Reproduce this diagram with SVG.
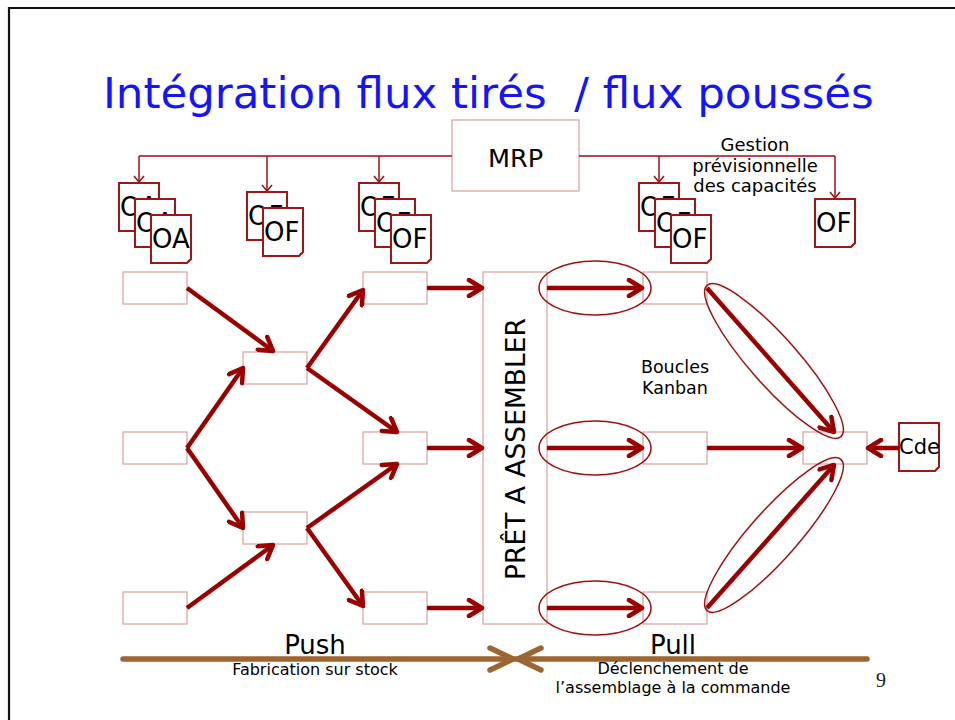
<svg xmlns="http://www.w3.org/2000/svg" xmlns:xlink="http://www.w3.org/1999/xlink" width="955" height="720" viewBox="0 0 955 720">
<style>
.t{font-family:"DejaVu Sans",Verdana,sans-serif;fill:#000}
.box{fill:#fff;stroke:#d8a0a0;stroke-width:1.2}
.doc{fill:#fff;stroke:#a01515;stroke-width:2}
.dt{font-family:"DejaVu Sans",Verdana,sans-serif;font-size:26px;fill:#000}
.thick{fill:none;stroke:#990000;stroke-width:4.5;marker-end:url(#ah)}
.thin{fill:none;stroke:#a01010;stroke-width:1.5}
.thinA{fill:none;stroke:#a01010;stroke-width:1.5;marker-end:url(#ahs)}
.ell{fill:none;stroke:#a01010;stroke-width:1.5}
.brown{fill:none;stroke:#9c6633;stroke-width:5.5;stroke-linecap:round;stroke-linejoin:round}
</style>
<defs>
<marker id="ah" markerUnits="userSpaceOnUse" viewBox="-16 -10 20 20" refX="0" refY="0" markerWidth="20" markerHeight="20" orient="auto"><path d="M-13,-8 L0,0 L-13,8" fill="none" stroke="#990000" stroke-width="4.5" stroke-linecap="round" stroke-linejoin="round"/></marker>
<marker id="ahs" markerUnits="userSpaceOnUse" viewBox="-8 -7 10 14" refX="0" refY="0" markerWidth="10" markerHeight="14" orient="auto"><path d="M-6,-5 L0,0 L-6,5" fill="none" stroke="#a01010" stroke-width="1.5"/></marker>
<g id="docshape"><path class="doc" d="M0,0 H40 V44 L36,48 H0 Z"/><path d="M36,48 L37,45 L40,44 Z" fill="#a01515"/></g>
</defs>
<rect width="955" height="720" fill="#fff"/>
<path d="M9,722 V8 H957" fill="none" stroke="#111" stroke-width="2.2"/>
<text x="103" y="108" xml:space="preserve" style="font-family:'DejaVu Sans',Verdana,sans-serif;font-size:43.5px;fill:#1414ff">Intégration flux tirés  / flux poussés</text>

<g id="mrp"><rect class="box" x="452" y="120" width="127" height="71"/><text class="t" x="515.5" y="167" text-anchor="middle" font-size="25.5">MRP</text></g>
<g id="gestion"><text class="t" font-size="18" text-anchor="middle"><tspan x="755" y="151">Gestion</tspan><tspan x="755" y="172">prévisionnelle</tspan><tspan x="755" y="192">des capacités</tspan></text></g>

<g id="docs-oa">
<use href="#docshape" x="119" y="183"/><text class="dt" x="120" y="216">OA</text>
<use href="#docshape" x="135" y="199"/><text class="dt" x="136" y="232">OA</text>
<use href="#docshape" x="151" y="215"/><text class="dt" x="152" y="248">OA</text>
</g>
<g id="docs-of1">
<use href="#docshape" x="247" y="192"/><text class="dt" x="248" y="225">OF</text>
<use href="#docshape" x="263" y="208"/><text class="dt" x="264" y="241">OF</text>
</g>
<g id="docs-of2">
<use href="#docshape" x="359" y="183"/><text class="dt" x="360" y="216">OF</text>
<use href="#docshape" x="375" y="199"/><text class="dt" x="376" y="232">OF</text>
<use href="#docshape" x="391" y="215"/><text class="dt" x="392" y="248">OF</text>
</g>
<g id="docs-of3">
<use href="#docshape" x="639" y="183"/><text class="dt" x="640" y="216">OF</text>
<use href="#docshape" x="655" y="199"/><text class="dt" x="656" y="232">OF</text>
<use href="#docshape" x="671" y="215"/><text class="dt" x="672" y="248">OF</text>
</g>
<g id="doc-of4"><use href="#docshape" x="815" y="199"/><text class="dt" x="816" y="232">OF</text></g>
<g id="doc-cde"><use href="#docshape" x="899" y="423"/><text class="t" x="899" y="454" font-size="21">Cde</text></g>

<g id="b1a"><rect class="box" x="123" y="272" width="64" height="32"/></g>
<g id="b1b"><rect class="box" x="123" y="432" width="64" height="32"/></g>
<g id="b1c"><rect class="box" x="123" y="592" width="64" height="32"/></g>
<g id="b2a"><rect class="box" x="243" y="352" width="64" height="32"/></g>
<g id="b2b"><rect class="box" x="243" y="512" width="64" height="32"/></g>
<g id="b3a"><rect class="box" x="363" y="272" width="64" height="32"/></g>
<g id="b3b"><rect class="box" x="363" y="432" width="64" height="32"/></g>
<g id="b3c"><rect class="box" x="363" y="592" width="64" height="32"/></g>
<g id="assembler"><rect class="box" x="483" y="272" width="64" height="352"/><text class="t" font-size="26.5" text-anchor="middle" transform="translate(525,449) rotate(-90)">PRÊT A ASSEMBLER</text></g>
<g id="b4a"><rect class="box" x="643" y="272" width="64" height="32"/></g>
<g id="b4b"><rect class="box" x="643" y="432" width="64" height="32"/></g>
<g id="b4c"><rect class="box" x="643" y="592" width="64" height="32"/></g>
<g id="b5"><rect class="box" x="803" y="432" width="64" height="32"/></g>
<g id="kanban"><text class="t" font-size="17.5" text-anchor="middle"><tspan x="675" y="373">Boucles</tspan><tspan x="675" y="394">Kanban</tspan></text></g>

<g id="connectors">
<path class="thin" d="M139,156 H452 M579,156 H835"/>
<path class="thinA" d="M139,156 V182"/>
<path class="thinA" d="M267,156 V191"/>
<path class="thinA" d="M379,156 V182"/>
<path class="thinA" d="M659,156 V182"/>
<path class="thinA" d="M835,156 V198"/>
<path class="thick" d="M187,288 L273,351"/>
<path class="thick" d="M187,448 L243,368"/>
<path class="thick" d="M187,448 L243,528"/>
<path class="thick" d="M187,608 L273,545"/>
<path class="thick" d="M307,368 L363,290"/>
<path class="thick" d="M307,368 L397,432"/>
<path class="thick" d="M307,528 L397,464"/>
<path class="thick" d="M307,528 L363,606"/>
<path class="thick" d="M427,288 H482"/>
<path class="thick" d="M427,448 H482"/>
<path class="thick" d="M427,608 H482"/>
<path class="thick" d="M547,288 H642"/>
<path class="thick" d="M547,448 H642"/>
<path class="thick" d="M547,608 H642"/>
<path class="thick" d="M707,448 H802"/>
<path class="thick" d="M707,288 L834,432"/>
<path class="thick" d="M707,608 L834,465"/>
<path class="thick" d="M899,448 H868"/>
<ellipse class="ell" cx="595" cy="288" rx="56" ry="27"/>
<ellipse class="ell" cx="595" cy="448" rx="56" ry="27"/>
<ellipse class="ell" cx="595" cy="608" rx="56" ry="27"/>
<ellipse class="ell" cx="0" cy="0" rx="101" ry="24" transform="translate(774,361) rotate(48.5)"/>
<ellipse class="ell" cx="0" cy="0" rx="101" ry="24" transform="translate(774,535) rotate(-48.5)"/>
</g>

<g id="pushpull">
<path class="brown" d="M123,659 H867"/>
<path class="brown" d="M490,648 L513,659 L490,670"/>
<path class="brown" d="M541,648 L518,659 L541,670"/>
<text class="t" x="315" y="654" font-size="26" text-anchor="middle">Push</text>
<text class="t" x="315" y="675" font-size="16" text-anchor="middle">Fabrication sur stock</text>
<text class="t" x="673" y="654" font-size="26" text-anchor="middle">Pull</text>
<text class="t" font-size="16" text-anchor="middle"><tspan x="673" y="674">Déclenchement de</tspan><tspan x="673" y="693">l’assemblage à la commande</tspan></text>
</g>
<text x="876" y="687" style="font-family:'Liberation Serif',serif;font-size:20px;fill:#222">9</text>
</svg>
